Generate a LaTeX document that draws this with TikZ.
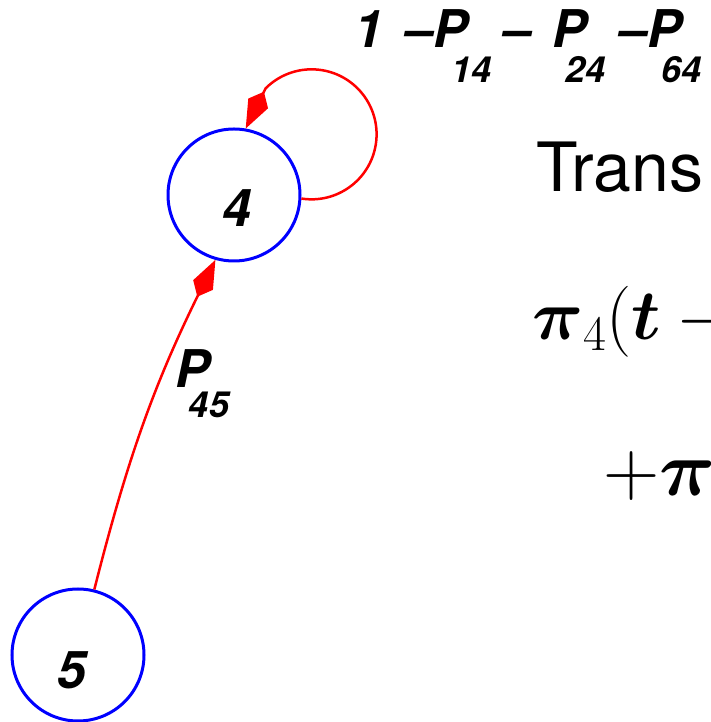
\RequirePackage{fix-cm}
\documentclass[tikz,border=0pt]{standalone}
\usepackage{amsmath}
\usepackage{fontspec}
\setmainfont{TeX Gyre Heros}
\usetikzlibrary{arrows.meta}
\begin{document}
\begin{tikzpicture}[x=1pt,y=1pt,
  st/.style={circle,draw=blue,line width=3pt,minimum size=132pt,inner sep=0pt},
  tr/.style={draw=red,line width=2.5pt,-{Kite[length=41pt,width=22pt,inset=13pt]}},
  bigl/.style={font=\fontsize{52}{52}\selectfont\bfseries\itshape,inner sep=0pt},
  subl/.style={font=\fontsize{36}{36}\selectfont\bfseries\itshape,inner sep=0pt},
  rtext/.style={anchor=base west,inner sep=0pt}]
\useasboundingbox (0,0) rectangle (711,722);
\clip (0,0) rectangle (711,722);
% states
\node[st] (n4) at (234,527) {};
\node[st] (n5) at (78,67) {};
\node[bigl] (l4) at (237,514) {4};
\node[bigl] (l5) at (72,52) {5};
% transitions
\draw[tr] (n5.76) to[bend left=6] (n4.254);
\draw[tr] (n4.-3) arc[start angle=-99, end angle=135, radius=65] -- (n4.80);
% labels
\node[bigl] (p45) at (193,353) {P};
\node[subl] (s45) at (209,317) {45};
\node[bigl,anchor=base west] (t1) at (354,674) {1};
\node[bigl,anchor=base west] (t2) at (404,674) {–P};
\node[subl,anchor=base west] (t3) at (451,639) {14};
\node[bigl,anchor=base west] (t4) at (502,674) {–};
\node[bigl,anchor=base west] (t5) at (552,674) {P};
\node[subl,anchor=base west] (t6) at (565,639) {24};
\node[bigl,anchor=base west] (t7) at (618,674) {–P};
\node[subl,anchor=base west] (t8) at (661,639) {64};
% right side text
\node[rtext,font=\fontsize{68}{68}\selectfont] (trans) at (536,530) {Trans};
\node[rtext,font=\fontsize{71}{71}\selectfont] (eq1) at (532,382) {$\boldsymbol{\pi}_4(\boldsymbol{t} -{}$};
\node[rtext,font=\fontsize{78}{78}\selectfont] (eq2) at (603,226) {$+\boldsymbol{\pi}$};
\end{tikzpicture}
\end{document}
